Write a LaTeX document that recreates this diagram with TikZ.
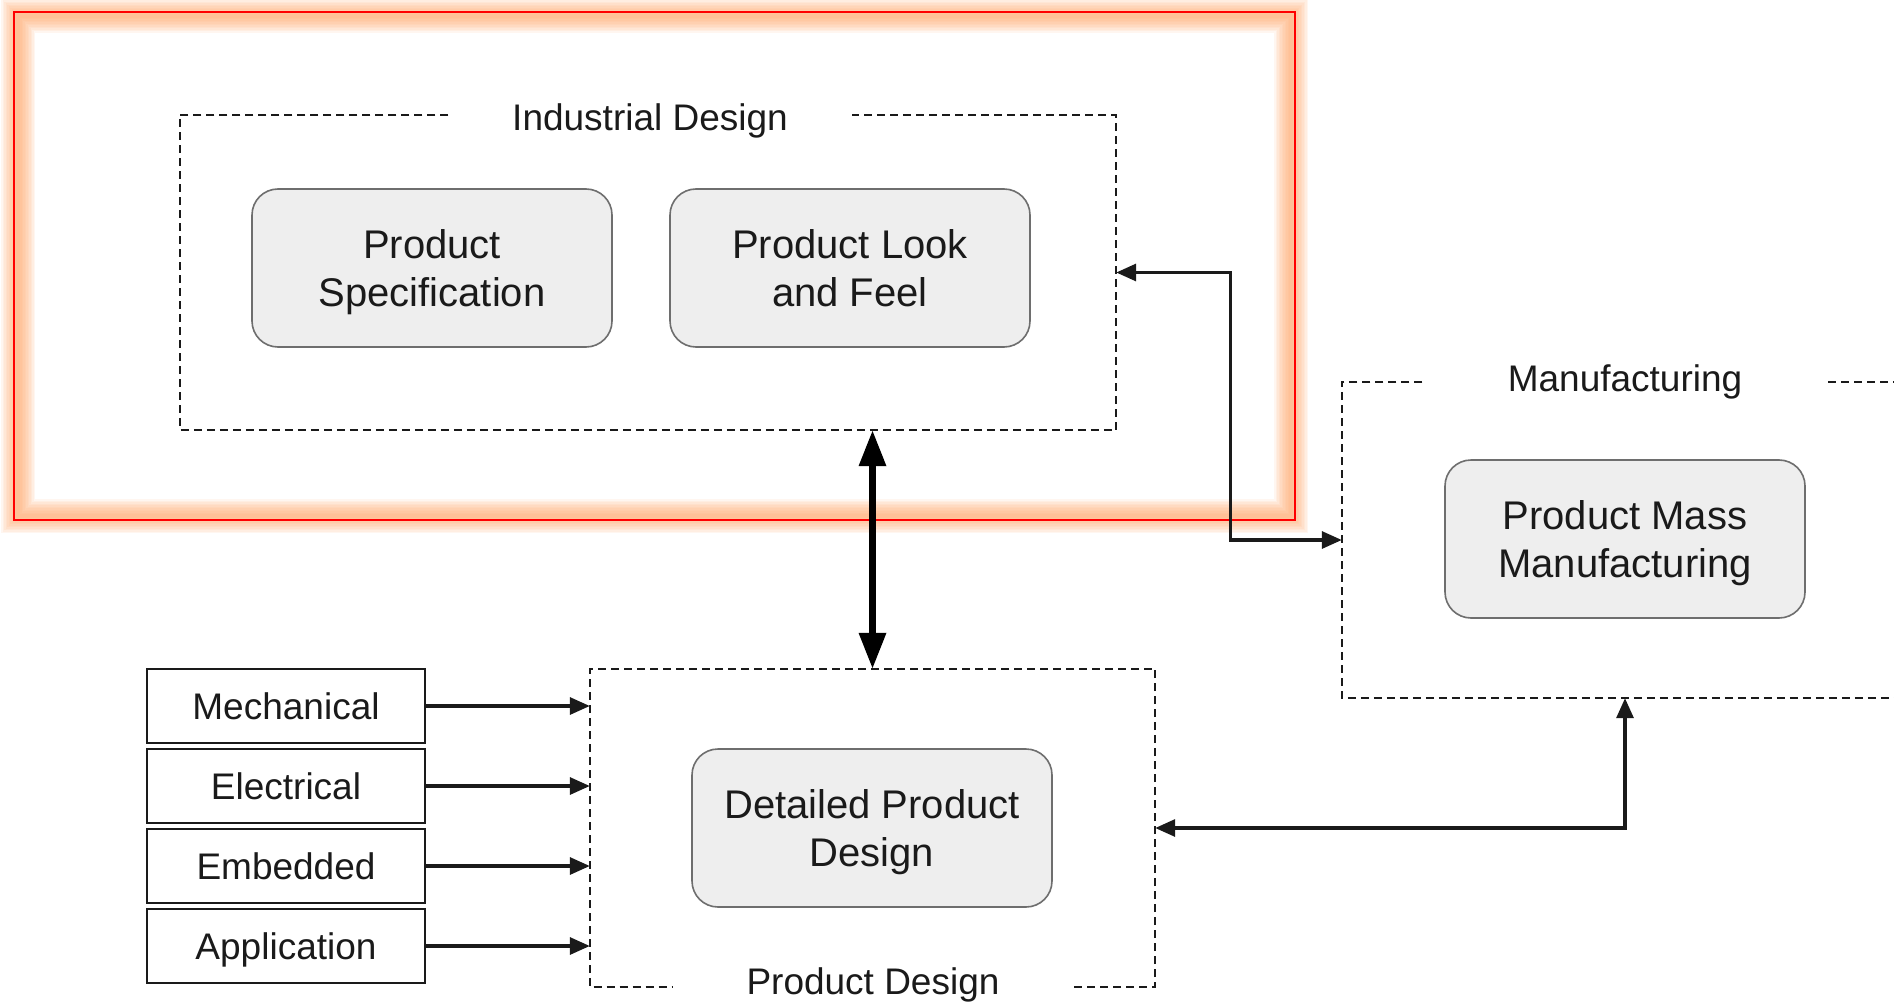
\documentclass[tikz,border=0pt]{standalone}
\usepackage{fontspec}
\setmainfont{Liberation Sans}
\usetikzlibrary{arrows.meta,calc}
\definecolor{boxfill}{HTML}{EEEEEE}
\definecolor{boxline}{HTML}{6E6E6E}
\definecolor{glowc}{RGB}{255,170,110}
\definecolor{ink}{HTML}{1A1A1A}
\begin{document}
\begin{tikzpicture}[x=1pt,y=-1pt,
  frame/.style={draw=ink, line width=1.6pt, dash pattern=on 8pt off 5pt},
  title/.style={font=\fontsize{37}{44}\selectfont, text=ink, inner sep=0pt,
    minimum height=40pt, text depth=0pt},
  rbox/.style={draw=boxline, fill=boxfill, line width=1.6pt, rounded corners=26pt,
    minimum width=360pt, minimum height=158pt, align=center, text=ink,
    text depth=0pt, font=\fontsize{40}{48}\selectfont},
  sbox/.style={draw=ink, line width=2.2pt, minimum width=278pt, minimum height=74pt,
    text=ink, text depth=0pt, font=\fontsize{37}{44}\selectfont},
  group/.style={draw=none, inner sep=0pt},
  conn/.style={draw=ink, line width=3.2pt, -{Triangle[length=20pt,width=17pt]}},
  bothconn/.style={draw=ink, line width=3.2pt, {Triangle[length=20pt,width=17pt]}-{Triangle[length=20pt,width=17pt]}},
  heavy/.style={draw=black, line width=6.5pt, {Triangle[length=36pt,width=26pt]}-{Triangle[length=36pt,width=26pt]}}
]
\useasboundingbox (0,0) rectangle (1894,1003);
\fill[white] (0,0) rectangle (1894,1003);
\clip (0,0) rectangle (1894,1003);

% highlighted frame: a soft glow built from stacked translucent strokes,
% leaning slightly inwards, under a thin red outline
\foreach \w in {34,31,...,4}
  \draw[glowc, line width=\w pt, opacity=0.1] (18,16) rectangle (1291,516);
\draw[red, line width=2.8pt] (14,12) rectangle (1295,520);

% group areas
\node[group, minimum width=936pt, minimum height=315pt] (ind) at (648,272.5) {};
\node[group, minimum width=566pt, minimum height=316pt] (man) at (1625,540) {};
\node[group, minimum width=565pt, minimum height=318pt] (pd) at (872.5,828) {};

% group titles
\node[title, minimum width=403pt] (indt) at (650,117) {Industrial Design};
\node[title, minimum width=405pt] (mant) at (1625,378) {Manufacturing};
\node[title, minimum width=402pt] (pdt) at (873,981) {Product Design};

% dashed outlines, open where the titles sit
\draw[frame] (indt.west |- ind.north) -- (ind.north west) -- (ind.south west)
  -- (ind.south east) -- (ind.north east) -- (indt.east |- ind.north);
\draw[frame] (mant.west |- man.north) -- (man.north west) -- (man.south west)
  -- (man.south east) -- (man.north east) -- (mant.east |- man.north);
\draw[frame] (pdt.east |- pd.south) -- (pd.south east) -- (pd.north east)
  -- (pd.north west) -- (pd.south west) -- (pdt.west |- pd.south);

% stages
\node[rbox] (spec) at (432,268) {Product\\Specification};
\node[rbox] (look) at (850,268) {Product Look\\and Feel};
\node[rbox] (mass) at (1625,539) {Product Mass\\Manufacturing};
\node[rbox] (detail) at (872,828) {Detailed Product\\Design};

% engineering disciplines
\node[sbox] (mech) at (286,706) {Mechanical};
\node[sbox] (elec) at (286,786) {Electrical};
\node[sbox] (emb)  at (286,866) {Embedded};
\node[sbox] (app)  at (286,946) {Application};

\foreach \n in {mech,elec,emb,app}
  \draw[conn] (\n.east) -- (\n.east -| pd.west);

% connectors between groups
\draw[heavy] (pd.north) -- (pd.north |- ind.south);
\draw[bothconn] (ind.east) -- ++(114,0) |- (man.west);
\draw[bothconn] (pd.east) -| (man.south);
\end{tikzpicture}
\end{document}
